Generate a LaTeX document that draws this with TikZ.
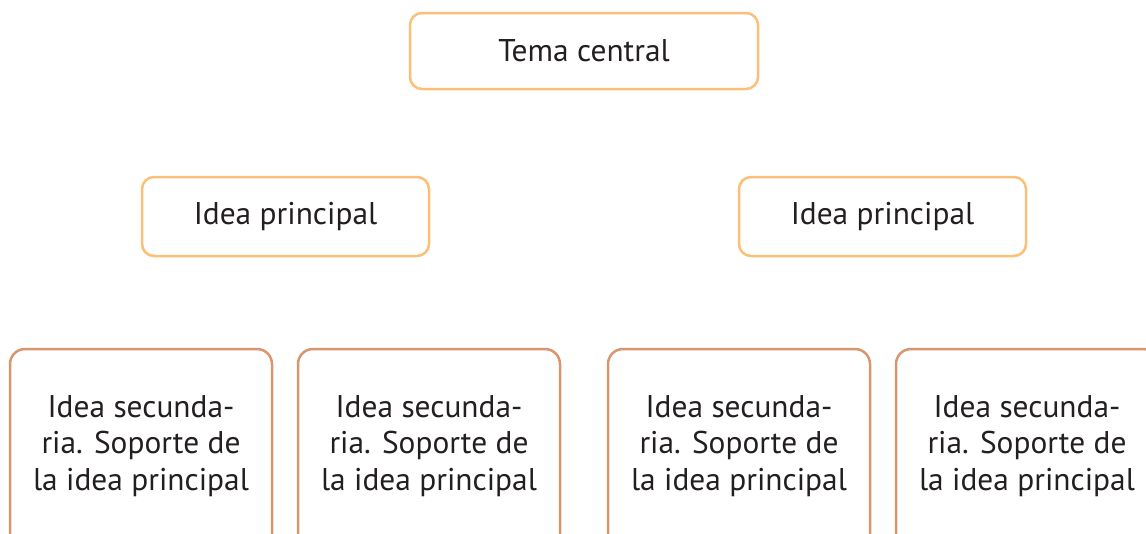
\documentclass[tikz,border=0pt]{standalone}
\usepackage{fontspec}
\setmainfont{PT Sans}
\definecolor{topc}{HTML}{FBBF77}
\definecolor{botc}{HTML}{D9956B}
\definecolor{txt}{HTML}{231F20}
\tikzset{
  topbox/.style={draw=topc, line width=2.5pt, rounded corners=12pt, fill=white, text=txt, font=\fontsize{31.4}{36}\selectfont},
  botbox/.style={draw=botc, line width=2.5pt, rounded corners=15pt, fill=white, minimum width=262pt, minimum height=211pt},
  bottxt/.style={text=txt, align=center, font=\fontsize{31.4}{36.5}\selectfont}
}
\begin{document}
\begin{tikzpicture}[x=1pt,y=-1pt]
\useasboundingbox (0,0) rectangle (1146,533);
\clip (0,0) rectangle (1146,533);
\node[topbox, minimum width=348pt, minimum height=76pt] (tema) at (584,51) {Tema central};
\node[topbox, minimum width=287pt, minimum height=79pt] (ip1) at (285.5,216.5) {Idea principal};
\node[topbox, minimum width=287pt, minimum height=79pt] (ip2) at (882.5,216.5) {Idea principal};
\foreach \i/\x in {1/141,2/429,3/739,4/1027}{
  \node[botbox] (s\i) at (\x,454.5) {};
  \node[bottxt] (t\i) at (\x,446) {Idea secunda-\\ria. Soporte de\\la idea principal};
}
\end{tikzpicture}
\end{document}
